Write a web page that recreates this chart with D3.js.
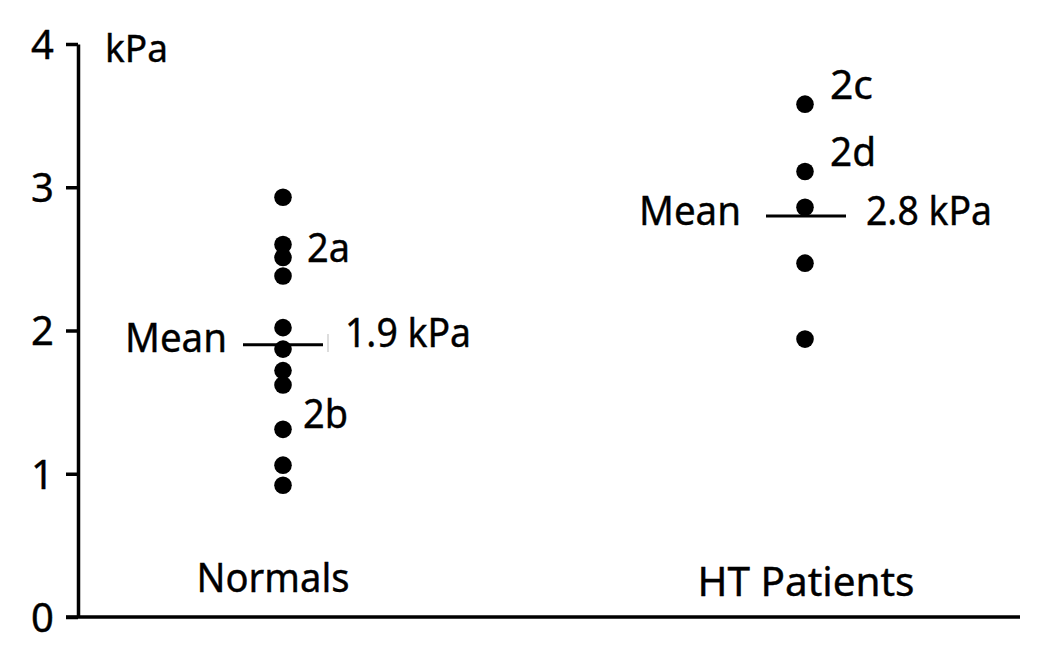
<!DOCTYPE html>
<html><head><meta charset="utf-8">
<script src="https://cdn.jsdelivr.net/npm/d3@7"></script>
<style>body{margin:0;background:#fff}svg{display:block}</style>
</head><body><svg id="c" width="1050" height="645"></svg>
<script>
// ---- data ----
const groups = ["Normals", "HT Patients"];
const normals = [2.93, 2.60, 2.51, 2.38, 2.02, 1.87, 1.72, 1.62, 1.31, 1.06, 0.92];
const htPatients = [3.58, 3.11, 2.86, 2.47, 1.94];
const means = [1.9, 2.8];
const meanLabels = ["1.9 kPa", "2.8 kPa"];
const yTicks = [0, 1, 2, 3, 4];
const unitLabel = "kPa";
const pointLabelText = ["2a", "2b", "2c", "2d"];
const pointLabelGroup = ["Normals", "Normals", "HT Patients", "HT Patients"];
const pointLabelValue = [2.60, 1.31, 3.58, 3.11];

// ---- layout ----
const svg = d3.select("#c");
const font = "'Noto Sans', 'Open Sans', sans-serif";
const y = d3.scaleLinear().domain([0, 4]).range([617, 44]);
const x = d3.scalePoint().domain(groups).range([283, 805]);
const axisX = 78;

// y axis
const yAxis = d3.axisLeft(y).tickValues(yTicks).tickSize(12).tickSizeOuter(0).tickPadding(12).tickFormat(d3.format("d"));
const gy = svg.append("g").attr("transform", `translate(${axisX},0)`).call(yAxis);
gy.attr("font-size", null).attr("font-family", null);
gy.select(".domain").attr("stroke", "#000").attr("stroke-width", 3.5);
gy.selectAll(".tick line").attr("stroke", "#000").attr("stroke-width", 3.5);
gy.selectAll(".tick text").attr("font-family", font).attr("font-size", 40).attr("fill", "#000")
  .attr("stroke", "#000").attr("stroke-width", 0.4).attr("dy", "0.36em");

// x axis line
svg.append("line").attr("x1", 66).attr("x2", 1020).attr("y1", y(0)).attr("y2", y(0))
  .attr("stroke", "#000").attr("stroke-width", 3.5);

// common text style
function styleText(sel, size, w) {
  sel.attr("font-family", font).attr("font-size", size).attr("fill", "#000")
    .attr("stroke", "#000").attr("stroke-width", 0.4);
  if (w) sel.attr("textLength", w).attr("lengthAdjust", "spacingAndGlyphs");
  return sel;
}

// unit label
styleText(svg.append("text").attr("x", 105).attr("y", 62), 38, 63).text(unitLabel);

// points
const series = [normals, htPatients];
series.forEach((vals, i) => {
  svg.append("g").selectAll("circle").data(vals).join("circle")
    .attr("cx", x(groups[i])).attr("cy", d => y(d)).attr("r", 8.8).attr("fill", "#000");
});

// mean lines
const meanHalf = [40, 40];
const meanOffset = [0, 1];
means.forEach((m, i) => {
  const cx = x(groups[i]) + meanOffset[i];
  svg.append("line").attr("x1", cx - meanHalf[i]).attr("x2", cx + meanHalf[i])
    .attr("y1", y(m)).attr("y2", y(m)).attr("stroke", "#000").attr("stroke-width", 3);
});

// mean texts
const meanWordX = [227, 741];
const meanWordBase = [352, 225];
const meanValX = [345, 866];
const meanValBase = [347, 225];
means.forEach((m, i) => {
  styleText(svg.append("text").attr("x", meanWordX[i]).attr("y", meanWordBase[i]).attr("text-anchor", "end"), 40, 102)
    .text("Mean");
  styleText(svg.append("text").attr("x", meanValX[i]).attr("y", meanValBase[i]), 40, 126)
    .text(meanLabels[i]);
});
// faint artifact mark
svg.append("line").attr("x1", 328).attr("x2", 328).attr("y1", 334).attr("y2", 352).attr("stroke", "#ddd").attr("stroke-width", 2);

// point labels
const plDx = [24, 20, 25, 25];
const plDy = [17, -1, -5, -5];
const plW = [43, 45, 43, 46];
pointLabelText.forEach((t, i) => {
  styleText(svg.append("text").attr("x", x(pointLabelGroup[i]) + plDx[i]).attr("y", y(pointLabelValue[i]) + plDy[i]), 40, plW[i])
    .text(t);
});

// category labels
const catCx = [273, 806];
const catBase = [592, 596];
const catW = [153, 217];
groups.forEach((g, i) => {
  styleText(svg.append("text").attr("x", catCx[i]).attr("y", catBase[i]).attr("text-anchor", "middle"), 40, catW[i])
    .text(g);
});
</script>
</body></html>
